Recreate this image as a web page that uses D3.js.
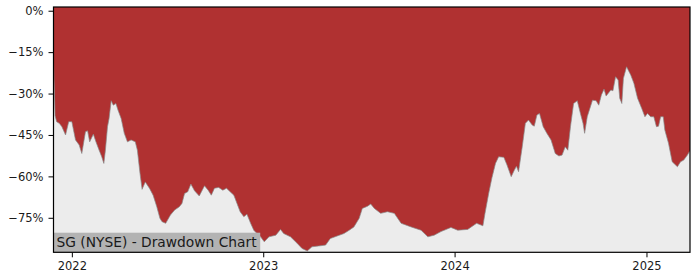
<!DOCTYPE html>
<html>
<head>
<meta charset="utf-8">
<script src="https://cdn.jsdelivr.net/npm/d3@7"></script>
<style>
  html, body { margin: 0; padding: 0; background: #ffffff; }
  svg { display: block; }
  text { font-family: "DejaVu Sans", sans-serif; fill: #1a1a1a; }
</style>
</head>
<body>
<svg id="chart" width="700" height="280"></svg>
<script>
const dates = [
  "2021-11-27","2021-11-30","2021-12-03","2021-12-08","2021-12-13","2021-12-20","2021-12-26",
  "2022-01-01","2022-01-08","2022-01-15","2022-01-20","2022-01-27","2022-01-31","2022-02-04",
  "2022-02-11","2022-02-16","2022-02-22","2022-02-27","2022-03-03","2022-03-06","2022-03-10",
  "2022-03-13","2022-03-17","2022-03-21","2022-03-26","2022-03-30","2022-04-05","2022-04-11",
  "2022-04-17","2022-04-24","2022-05-02","2022-05-06","2022-05-11","2022-05-15","2022-05-21",
  "2022-05-29","2022-06-05","2022-06-12","2022-06-18","2022-06-22","2022-06-29","2022-07-08",
  "2022-07-16","2022-07-25","2022-07-30","2022-08-04","2022-08-10","2022-08-16","2022-08-23",
  "2022-09-01","2022-09-11","2022-09-18","2022-09-24","2022-09-30","2022-10-08","2022-10-16",
  "2022-10-23","2022-10-30","2022-11-06","2022-11-12","2022-11-18","2022-11-25","2022-12-01",
  "2022-12-08","2022-12-14","2022-12-20","2022-12-27","2023-01-03","2023-01-12","2023-01-25",
  "2023-02-03","2023-02-09","2023-02-22","2023-03-07","2023-03-16","2023-03-26","2023-04-04",
  "2023-04-17","2023-04-30","2023-05-09","2023-05-22","2023-06-04","2023-06-14","2023-06-23",
  "2023-07-03","2023-07-09","2023-07-19","2023-07-25","2023-08-01","2023-08-13","2023-08-26",
  "2023-09-08","2023-09-21","2023-10-10","2023-10-29","2023-11-11","2023-11-23","2023-12-06",
  "2023-12-25","2024-01-07","2024-01-26","2024-02-12","2024-02-24","2024-02-28","2024-03-06",
  "2024-03-12","2024-03-19","2024-03-25","2024-04-04","2024-04-10","2024-04-18","2024-04-24",
  "2024-04-28","2024-05-02","2024-05-09","2024-05-15","2024-05-21","2024-05-28","2024-06-01",
  "2024-06-06","2024-06-11","2024-06-18","2024-06-25","2024-07-03","2024-07-11","2024-07-18",
  "2024-07-24","2024-07-30","2024-08-04","2024-08-09","2024-08-15","2024-08-22","2024-08-28",
  "2024-09-02","2024-09-05","2024-09-10","2024-09-15","2024-09-20","2024-09-27","2024-10-02",
  "2024-10-07","2024-10-12","2024-10-16","2024-10-25","2024-10-29","2024-11-03","2024-11-08",
  "2024-11-11","2024-11-15","2024-11-18","2024-11-24","2024-12-02","2024-12-08","2024-12-15",
  "2024-12-23","2024-12-29","2025-01-03","2025-01-09","2025-01-15","2025-01-20","2025-01-24",
  "2025-01-28","2025-02-02","2025-02-05","2025-02-12","2025-02-19","2025-03-01","2025-03-07",
  "2025-03-13","2025-03-20","2025-03-25"
];
const drawdown = [
  -18.6,-38.0,-40.2,-40.8,-42.0,-45.0,-40.2,
  -40.2,-46.8,-48.6,-51.7,-43.8,-43.5,-47.5,
  -44.7,-47.5,-50.5,-52.9,-55.3,-50.5,-42.0,
  -39.0,-32.6,-34.2,-33.6,-36.0,-39.0,-44.4,
  -47.5,-46.8,-47.5,-50.5,-58.9,-64.7,-62.0,
  -64.3,-66.8,-71.0,-75.2,-76.4,-77.0,-74.0,
  -72.2,-71.0,-69.8,-66.2,-65.6,-62.8,-65.2,
  -67.1,-63.4,-65.0,-66.8,-64.3,-64.0,-65.0,
  -64.3,-65.6,-66.8,-69.8,-72.8,-74.6,-73.7,
  -77.0,-79.5,-80.7,-81.9,-83.7,-81.9,-81.3,
  -79.2,-80.7,-81.9,-84.3,-86.1,-87.0,-85.5,
  -85.2,-84.9,-82.5,-81.6,-80.7,-79.5,-78.3,
  -75.2,-71.6,-70.8,-70.0,-71.6,-73.4,-72.8,
  -73.4,-77.0,-78.3,-79.5,-81.9,-81.3,-80.0,
  -78.5,-79.5,-79.2,-77.0,-77.9,-73.4,-66.2,
  -60.7,-55.3,-52.9,-53.1,-55.9,-60.1,-57.7,
  -56.3,-58.3,-49.3,-40.8,-39.6,-41.4,-41.8,
  -37.8,-37.2,-42.0,-44.4,-46.8,-51.7,-52.6,
  -52.3,-49.3,-50.5,-42.0,-33.6,-32.6,-37.2,
  -40.8,-44.4,-38.4,-35.4,-32.4,-32.6,-34.2,
  -30.5,-28.4,-30.9,-28.7,-29.0,-23.9,-25.1,
  -31.7,-33.6,-24.5,-20.3,-23.3,-26.3,-31.7,
  -35.4,-38.4,-37.2,-38.4,-38.4,-42.0,-41.8,
  -38.4,-38.4,-43.2,-48.0,-54.7,-56.5,-54.7,
  -54.1,-52.3,-50.7
];
const yTicks = [0, -15, -30, -45, -60, -75];
const xTickYears = ["2022", "2023", "2024", "2025"];
const titleText = "SG (NYSE) - Drawdown Chart";

const parse = d3.timeParse("%Y-%m-%d");
const data = dates.map((d, i) => ({ date: parse(d), value: drawdown[i] }));

const padL = 53.5, padR = 690, padT = 7, padB = 252.3;
const svg = d3.select("#chart");

const x = d3.scaleTime()
  .domain([data[0].date, data[data.length - 1].date])
  .range([padL, padR]);
const y = d3.scaleLinear()
  .domain([-87.5, 1.35])
  .range([padB, padT]);

svg.append("defs").append("clipPath").attr("id", "clip")
  .append("rect").attr("x", padL).attr("y", padT)
  .attr("width", padR - padL).attr("height", padB - padT);

const plot = svg.append("g").attr("clip-path", "url(#clip)");

// red drawdown fill (from line up to the top)
plot.append("rect")
  .attr("x", padL).attr("y", padT)
  .attr("width", padR - padL).attr("height", padB - padT)
  .attr("fill", "#b03131");

// light grey area below the drawdown line
const area = d3.area()
  .x(d => x(d.date))
  .y0(padB)
  .y1(d => y(d.value));
plot.append("path")
  .datum(data)
  .attr("d", area)
  .attr("fill", "#ececec");

const line = d3.line()
  .x(d => x(d.date))
  .y(d => y(d.value));
plot.append("path")
  .datum(data)
  .attr("d", line)
  .attr("fill", "none")
  .attr("stroke", "#8a8a8a")
  .attr("stroke-width", 0.7);

// title box
const tg = svg.append("g");
const tText = tg.append("text")
  .attr("x", padL + 3)
  .attr("y", padB - 5)
  .attr("font-size", "13.8px")
  .text(titleText);
const bb = tText.node().getBBox();
tg.insert("rect", "text")
  .attr("x", padL)
  .attr("y", 232.7)
  .attr("width", bb.x + bb.width + 3 - padL)
  .attr("height", padB - 232.7)
  .attr("fill", "#b3b3b3");

// axes
const yAxis = d3.axisLeft(y)
  .tickValues(yTicks)
  .tickSize(5)
  .tickPadding(5)
  .tickFormat(d => (d === 0 ? "0" : "\u2212" + Math.abs(d)) + "%");
const gy = svg.append("g").attr("transform", `translate(${padL},0)`).call(yAxis);

const xTickDates = xTickYears.map(s => parse(s + "-01-01"));
const xAxis = d3.axisBottom(x)
  .tickValues(xTickDates)
  .tickSize(5)
  .tickPadding(5)
  .tickFormat(d3.timeFormat("%Y"));
const gx = svg.append("g").attr("transform", `translate(0,${padB})`).call(xAxis);

[gx, gy].forEach(g => {
  g.select(".domain").remove();
  g.selectAll(".tick line").attr("stroke", "#000").attr("stroke-width", 1);
  g.selectAll(".tick text")
    .attr("font-family", "DejaVu Sans, sans-serif")
    .attr("font-size", "11.5px")
    .attr("fill", "#1a1a1a");
});

// frame
svg.append("rect")
  .attr("x", padL).attr("y", padT)
  .attr("width", padR - padL).attr("height", padB - padT)
  .attr("fill", "none")
  .attr("stroke", "#000")
  .attr("stroke-width", 1.2);
</script>
</body>
</html>
